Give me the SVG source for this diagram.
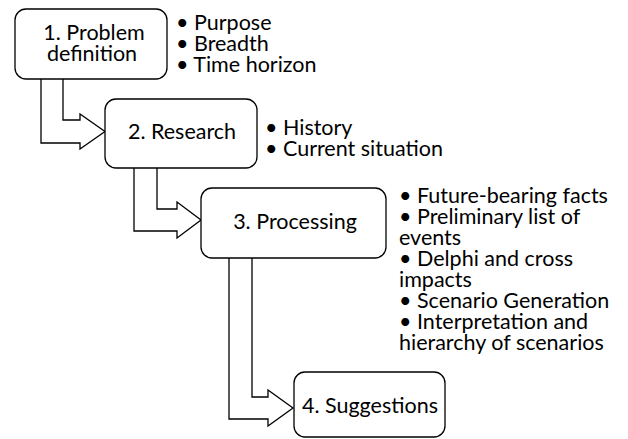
<svg xmlns="http://www.w3.org/2000/svg" width="628" height="439" viewBox="0 0 628 439">
<style>
.box{fill:#fff;stroke:#000;stroke-width:1.3}
.arr{fill:#fff;stroke:#000;stroke-width:1.3;stroke-linejoin:miter}
text{font-family:Lato,"Open Sans",sans-serif;font-size:21.5px;fill:#000}
.c{text-anchor:middle}
</style>
<rect width="628" height="439" fill="#fff"/>
<g id="connectors">
<path class="arr" d="M41,79 V143 H80 V149 L105,131.5 L80,114 V120 H63 V79"/>
<path class="arr" d="M134,168 V231 H177 V238 L201,220 L177,202 V209 H157 V168"/>
<path class="arr" d="M229,258 V419 H268 V426 L293,408 L268,390 V397 H252 V258"/>
</g>
<g id="node1">
<rect class="box" x="15" y="9" width="152" height="70" rx="11"/>
<text class="c" x="94" y="40">1. Problem</text>
<text class="c" x="92" y="61">definition</text>
</g>
<g id="notes1">
<text x="176" y="30">• Purpose</text>
<text x="176" y="51">• Breadth</text>
<text x="176" y="72">• Time horizon</text>
</g>
<g id="node2">
<rect class="box" x="105" y="99" width="152" height="69" rx="11"/>
<text class="c" x="182" y="139">2. Research</text>
</g>
<g id="notes2">
<text x="265" y="135">• History</text>
<text x="265" y="156">• Current situation</text>
</g>
<g id="node3">
<rect class="box" x="201" y="188" width="185" height="70" rx="11"/>
<text class="c" x="295" y="229">3. Processing</text>
</g>
<g id="notes3">
<text x="399" y="203">• Future-bearing facts</text>
<text x="399" y="224">• Preliminary list of</text>
<text x="399" y="245">events</text>
<text x="399" y="266">• Delphi and cross</text>
<text x="399" y="287">impacts</text>
<text x="399" y="308">• Scenario Generation</text>
<text x="399" y="329">• Interpretation and</text>
<text x="399" y="350">hierarchy of scenarios</text>
</g>
<g id="node4">
<rect class="box" x="294" y="372" width="151" height="65" rx="11"/>
<text class="c" x="370" y="413">4. Suggestions</text>
</g>
</svg>
